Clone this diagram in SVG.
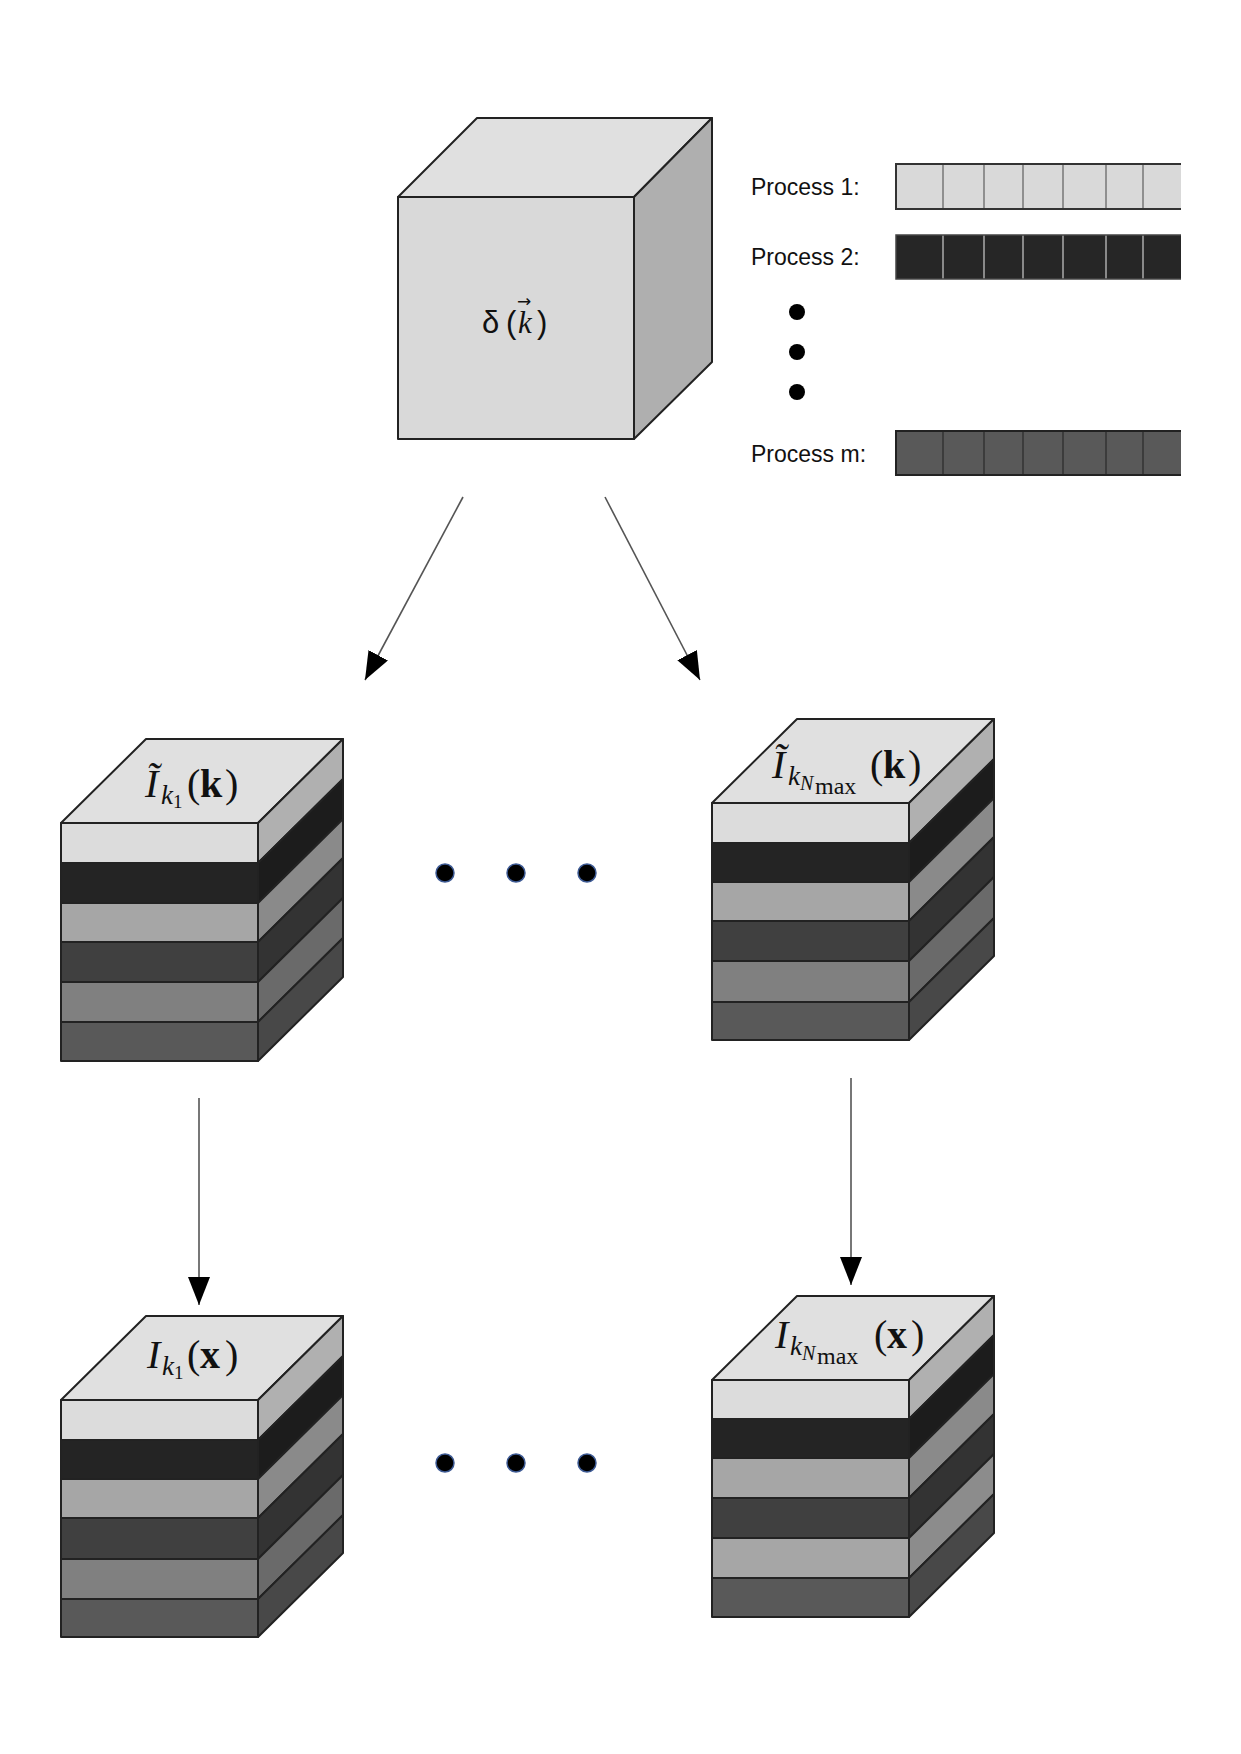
<svg xmlns="http://www.w3.org/2000/svg" width="1241" height="1754" viewBox="0 0 1241 1754">
<style>
.edge{stroke:#222;stroke-width:2;stroke-linejoin:round}
.conn{stroke:#555;stroke-width:1.6;fill:none;marker-end:url(#ah)}
.proc{font-family:"Liberation Sans",Arial,sans-serif;font-size:23px;fill:#111}
.math{font-family:"Liberation Serif","Times New Roman",serif;fill:#111}
.it{font-style:italic}
.bd{font-weight:bold}
.dot{fill:#000;stroke:#3d5a94;stroke-width:1.5}
.bdot{fill:#000}
</style>
<defs>
<marker id="ah" viewBox="0 0 28 22" refX="28" refY="11" markerWidth="28" markerHeight="22" markerUnits="userSpaceOnUse" orient="auto">
<path d="M0,0 L28,11 L0,22 z" fill="#000"/>
</marker>
</defs>

<g id="delta-cube">
<polygon class="edge" points="398,197 477,118 712,118 634,197" fill="#e0e0e0" stroke-width="2.5"/>
<polygon class="edge" points="634,197 712,118 712,362 634,439" fill="#afafaf" stroke-width="2.5"/>
<rect class="edge" x="398" y="197" width="236" height="242" fill="#d9d9d9" stroke-width="2.5"/>
<text x="482" y="333" font-family="Liberation Sans,Arial,sans-serif" font-size="31" fill="#111">δ<tspan x="506">(</tspan><tspan x="518" font-family="Liberation Serif,serif" font-style="italic">k</tspan><tspan x="537">)</tspan><tspan x="517" y="307" font-size="17" font-family="DejaVu Sans,sans-serif">→</tspan></text>
</g>

<g id="process-1">
<text class="proc" x="751" y="195">Process 1:</text>
<rect x="896" y="164" width="285" height="45" fill="#d9d9d9"/>
<path d="M943,164V209M984,164V209M1023,164V209M1063,164V209M1106,164V209M1143,164V209" stroke="#777" stroke-width="1.5"/>
<path d="M1181,164H896V209H1181" fill="none" stroke="#333" stroke-width="2"/>
</g>
<g id="process-2">
<text class="proc" x="751" y="265">Process 2:</text>
<rect x="896" y="235" width="285" height="44" fill="#262626"/>
<path d="M943,235V279M984,235V279M1023,235V279M1063,235V279M1106,235V279M1143,235V279" stroke="#aaa" stroke-width="1.5"/>
<path d="M1181,235H896V279H1181" fill="none" stroke="#444" stroke-width="1.5"/>
</g>
<g id="process-dots">
<circle class="bdot" cx="797" cy="312" r="8"/>
<circle class="bdot" cx="797" cy="352" r="8"/>
<circle class="bdot" cx="797" cy="392" r="8"/>
</g>
<g id="process-m">
<text class="proc" x="751" y="462">Process m:</text>
<rect x="896" y="431" width="285" height="44" fill="#595959"/>
<path d="M943,431V475M984,431V475M1023,431V475M1063,431V475M1106,431V475M1143,431V475" stroke="#333" stroke-width="1.5"/>
<path d="M1181,431H896V475H1181" fill="none" stroke="#222" stroke-width="2"/>
</g>

<g id="connectors">
<line class="conn" x1="463" y1="497" x2="365" y2="680"/>
<line class="conn" x1="605" y1="497" x2="700" y2="680"/>
<line class="conn" x1="199" y1="1098" x2="199" y2="1305"/>
<line class="conn" x1="851" y1="1078" x2="851" y2="1285"/>
</g>

<g id="stack-k1">
<polygon class="edge" points="61,823 146,739 343,739 258,823" fill="#e0e0e0"/>
<polygon class="edge" points="258,823 343,739 343,779 258,863" fill="#b0b0b0"/>
<polygon class="edge" points="258,863 343,779 343,819 258,903" fill="#1c1c1c"/>
<polygon class="edge" points="258,903 343,819 343,858 258,942" fill="#8a8a8a"/>
<polygon class="edge" points="258,942 343,858 343,898 258,982" fill="#333333"/>
<polygon class="edge" points="258,982 343,898 343,938 258,1022" fill="#6a6a6a"/>
<polygon class="edge" points="258,1022 343,938 343,977 258,1061" fill="#484848"/>
<rect class="edge" x="61" y="823" width="197" height="40" fill="#dcdcdc"/>
<rect class="edge" x="61" y="863" width="197" height="40" fill="#242424"/>
<rect class="edge" x="61" y="903" width="197" height="39" fill="#a6a6a6"/>
<rect class="edge" x="61" y="942" width="197" height="40" fill="#404040"/>
<rect class="edge" x="61" y="982" width="197" height="40" fill="#808080"/>
<rect class="edge" x="61" y="1022" width="197" height="39" fill="#595959"/>
<text class="math" font-size="40"><tspan class="it" x="145" y="797">Ĩ</tspan><tspan class="it" x="161" y="804" font-size="27">k</tspan><tspan x="173" y="808" font-size="19">1</tspan><tspan x="187" y="797">(</tspan><tspan class="bd" x="200" y="797">k</tspan><tspan x="225" y="797">)</tspan></text>
</g>

<g id="stack-kN">
<polygon class="edge" points="712,803 797,719 994,719 909,803" fill="#e0e0e0"/>
<polygon class="edge" points="909,803 994,719 994,759 909,843" fill="#b0b0b0"/>
<polygon class="edge" points="909,843 994,759 994,798 909,882" fill="#1c1c1c"/>
<polygon class="edge" points="909,882 994,798 994,837 909,921" fill="#8a8a8a"/>
<polygon class="edge" points="909,921 994,837 994,877 909,961" fill="#333333"/>
<polygon class="edge" points="909,961 994,877 994,918 909,1002" fill="#6a6a6a"/>
<polygon class="edge" points="909,1002 994,918 994,956 909,1040" fill="#484848"/>
<rect class="edge" x="712" y="803" width="197" height="40" fill="#dcdcdc"/>
<rect class="edge" x="712" y="843" width="197" height="39" fill="#242424"/>
<rect class="edge" x="712" y="882" width="197" height="39" fill="#a6a6a6"/>
<rect class="edge" x="712" y="921" width="197" height="40" fill="#404040"/>
<rect class="edge" x="712" y="961" width="197" height="41" fill="#808080"/>
<rect class="edge" x="712" y="1002" width="197" height="38" fill="#595959"/>
<text class="math" font-size="40"><tspan class="it" x="772" y="778">Ĩ</tspan><tspan class="it" x="788" y="785" font-size="27">k</tspan><tspan class="it" x="800" y="790" font-size="20">N</tspan><tspan x="815" y="794" font-size="24">max</tspan><tspan x="870" y="778">(</tspan><tspan class="bd" x="883" y="778">k</tspan><tspan x="908" y="778">)</tspan></text>
</g>

<g id="mid-dots-k">
<circle class="dot" cx="445" cy="873" r="9"/>
<circle class="dot" cx="516" cy="873" r="9"/>
<circle class="dot" cx="587" cy="873" r="9"/>
</g>

<g id="stack-x1">
<polygon class="edge" points="61,1400 146,1316 343,1316 258,1400" fill="#e0e0e0"/>
<polygon class="edge" points="258,1400 343,1316 343,1356 258,1440" fill="#b0b0b0"/>
<polygon class="edge" points="258,1440 343,1356 343,1395 258,1479" fill="#1c1c1c"/>
<polygon class="edge" points="258,1479 343,1395 343,1434 258,1518" fill="#8a8a8a"/>
<polygon class="edge" points="258,1518 343,1434 343,1475 258,1559" fill="#333333"/>
<polygon class="edge" points="258,1559 343,1475 343,1515 258,1599" fill="#6a6a6a"/>
<polygon class="edge" points="258,1599 343,1515 343,1553 258,1637" fill="#484848"/>
<rect class="edge" x="61" y="1400" width="197" height="40" fill="#dcdcdc"/>
<rect class="edge" x="61" y="1440" width="197" height="39" fill="#242424"/>
<rect class="edge" x="61" y="1479" width="197" height="39" fill="#a6a6a6"/>
<rect class="edge" x="61" y="1518" width="197" height="41" fill="#404040"/>
<rect class="edge" x="61" y="1559" width="197" height="40" fill="#808080"/>
<rect class="edge" x="61" y="1599" width="197" height="38" fill="#595959"/>
<text class="math" font-size="40"><tspan class="it" x="147" y="1368">I</tspan><tspan class="it" x="162" y="1375" font-size="27">k</tspan><tspan x="174" y="1379" font-size="19">1</tspan><tspan x="187" y="1368">(</tspan><tspan class="bd" x="200" y="1368">x</tspan><tspan x="225" y="1368">)</tspan></text>
</g>

<g id="stack-xN">
<polygon class="edge" points="712,1380 797,1296 994,1296 909,1380" fill="#e0e0e0"/>
<polygon class="edge" points="909,1380 994,1296 994,1335 909,1419" fill="#b0b0b0"/>
<polygon class="edge" points="909,1419 994,1335 994,1374 909,1458" fill="#1c1c1c"/>
<polygon class="edge" points="909,1458 994,1374 994,1414 909,1498" fill="#8a8a8a"/>
<polygon class="edge" points="909,1498 994,1414 994,1454 909,1538" fill="#333333"/>
<polygon class="edge" points="909,1538 994,1454 994,1494 909,1578" fill="#8c8c8c"/>
<polygon class="edge" points="909,1578 994,1494 994,1533 909,1617" fill="#484848"/>
<rect class="edge" x="712" y="1380" width="197" height="39" fill="#dcdcdc"/>
<rect class="edge" x="712" y="1419" width="197" height="39" fill="#242424"/>
<rect class="edge" x="712" y="1458" width="197" height="40" fill="#a6a6a6"/>
<rect class="edge" x="712" y="1498" width="197" height="40" fill="#404040"/>
<rect class="edge" x="712" y="1538" width="197" height="40" fill="#a6a6a6"/>
<rect class="edge" x="712" y="1578" width="197" height="39" fill="#595959"/>
<text class="math" font-size="40"><tspan class="it" x="775" y="1348">I</tspan><tspan class="it" x="790" y="1355" font-size="27">k</tspan><tspan class="it" x="802" y="1360" font-size="20">N</tspan><tspan x="817" y="1364" font-size="24">max</tspan><tspan x="874" y="1348">(</tspan><tspan class="bd" x="887" y="1348">x</tspan><tspan x="911" y="1348">)</tspan></text>
</g>

<g id="mid-dots-x">
<circle class="dot" cx="445" cy="1463" r="9"/>
<circle class="dot" cx="516" cy="1463" r="9"/>
<circle class="dot" cx="587" cy="1463" r="9"/>
</g>
</svg>
